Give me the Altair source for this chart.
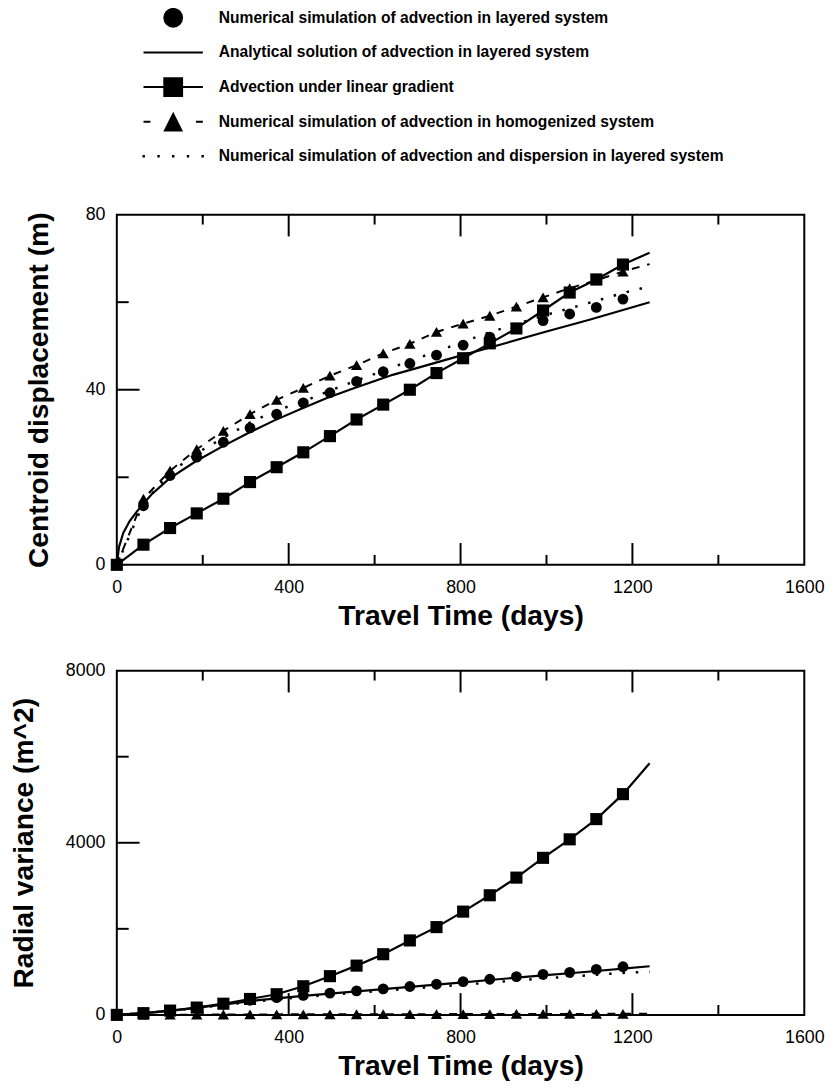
import altair as alt
import pandas as pd

# ---------------- data ----------------
t_markers = [0, 62, 124, 186, 248, 310, 372, 434, 496, 558, 620, 682, 744, 806,
             868, 930, 992, 1054, 1116, 1178]
t_end = 1240

# top panel: centroid displacement (m)
top_circle = [0, 13.5, 20.4, 24.6, 28.0, 31.3, 34.4, 37.0, 39.3, 41.9, 44.1, 46.0,
              47.9, 50.2, 52.0, 54.0, 55.8, 57.3, 58.8, 60.7]
top_square = [0, 4.6, 8.4, 11.75, 15.1, 18.9, 22.3, 25.7, 29.4, 33.2, 36.6, 40.0,
              43.8, 47.2, 50.6, 54.0, 58.1, 62.2, 65.2, 68.6]
top_square_end = 71.3
top_triangle = [0, 15.1, 21.5, 26.4, 30.6, 34.4, 37.7, 40.4, 43.2, 45.6, 48.3, 50.5,
                53.2, 55.1, 56.9, 59.0, 61.1, 63.2, 65.0, 67.0]
top_triangle_end = 68.7
top_dotted = [0, 14.0, 21.0, 25.5, 29.0, 32.5, 35.3, 37.3, 39.8, 42.1, 44.3, 46.6,
              48.7, 51.0, 53.1, 55.0, 56.9, 58.6, 60.3, 62.1, 63.6]
top_solid_t = [0, 5, 15, 30, 46, 80, 122, 183, 245, 306, 367, 428, 489, 550, 642,
               700, 800, 900, 1000, 1100, 1240]
top_solid = [0, 4.0, 7.3, 10.0, 12.1, 16.0, 19.7, 23.6, 27.0, 30.1, 33.0, 35.6,
             38.1, 40.3, 43.4, 45.0, 47.8, 50.5, 53.3, 56.0, 60.0]

# bottom panel: radial variance (m^2)
bot_circle = [0, 45, 100, 175, 250, 340, 400, 452, 506, 559, 605, 659, 713, 774,
              828, 889, 943, 989, 1057, 1119]
bot_square = [0, 40, 100, 170, 260, 370, 480, 665, 900, 1145, 1410, 1730, 2040,
              2400, 2780, 3190, 3650, 4080, 4550, 5130]
bot_square_end = 5850
bot_triangle = [0, 3, 5, 7, 9, 10, 12, 13, 14, 15, 16, 17, 18, 19, 20, 21, 22, 23,
                24, 25]
bot_triangle_end = 26
bot_solid = [0, 40, 95, 165, 240, 320, 385, 440, 495, 548, 597, 650, 703, 757, 810,
             865, 917, 968, 1020, 1075, 1130]
bot_dotted = [0, 40, 95, 160, 230, 300, 360, 415, 465, 515, 560, 610, 655, 705, 750,
              800, 845, 890, 935, 975, 1005]

x_labels = [0, 400, 800, 1200, 1600]
x_major_ticks = [400, 800, 1200]
x_minor_ticks = [200, 600, 1000, 1400]
top_y_labels = [0, 40, 80]
top_y_major = [40]
top_y_minor = [20, 60]
bot_y_labels = [0, 4000, 8000]
bot_y_major = [4000]
bot_y_minor = [2000, 6000]

legend_labels = [
    "Numerical simulation of advection in layered system",
    "Analytical solution of advection in layered system",
    "Advection under linear gradient",
    "Numerical simulation of advection in homogenized system",
    "Numerical simulation of advection and dispersion in layered system",
]
# legend glyphs (filled paths, unit = 10 px); "M0,-1L0,1" keeps every row the same height
SPACER = "M0,-1L0,1"
legend_paths = [
    "circle",
    "M-3,-0.1H3V0.1H-3Z" + SPACER,
    "M-3,-0.1H3V0.1H-3ZM-1,-1H1V1H-1Z",
    "M-3,-0.1H-2.3V0.1H-3ZM2.3,-0.1H3V0.1H2.3ZM-1,1L0,-1L1,1Z",
    "M-3.1,-0.12h0.24v0.24h-0.24Z"
    "M-1.6,-0.12h0.24v0.24h-0.24Z"
    "M-0.12,-0.12h0.24v0.24h-0.24Z"
    "M1.38,-0.12h0.24v0.24h-0.24Z"
    "M2.86,-0.12h0.24v0.24h-0.24Z" + SPACER,
]

FONT = "Liberation Sans"
W = 695
TOP_H = 354
BOT_H = 348


def panel(height, ymax, ylabels, ytitle, ytitle_pad, ymajor, yminor,
          circle, square, square_end, triangle, triangle_end, solid_t, solid,
          dotted_t, dotted, with_legend=False):
    xs = alt.Scale(domain=[0, 1600], nice=False, zero=False)
    ys = alt.Scale(domain=[0, ymax], nice=False, zero=False)
    xax = alt.Axis(values=x_labels, title="Travel Time (days)", labelPadding=14,
                   titlePadding=5, format="d")
    yax = alt.Axis(values=ylabels, title=ytitle, labelPadding=12,
                   titlePadding=ytitle_pad, format="d")

    def X(f="t"):
        return alt.X(f"{f}:Q", scale=xs, axis=xax)

    def Y(f="v"):
        return alt.Y(f"{f}:Q", scale=ys, axis=yax)

    d_circle = pd.DataFrame({"t": t_markers, "v": circle})
    d_square = pd.DataFrame({"t": t_markers, "v": square})
    d_square_line = pd.DataFrame({"t": t_markers + [t_end], "v": square + [square_end]})
    d_tri = pd.DataFrame({"t": t_markers, "v": triangle})
    d_tri_line = pd.DataFrame({"t": t_markers + [t_end], "v": triangle + [triangle_end]})
    d_solid = pd.DataFrame({"t": solid_t, "v": solid})
    d_dotted = pd.DataFrame({"t": dotted_t, "v": dotted})

    layers = [
        alt.Chart(d_solid).mark_line(color="black", strokeWidth=2.2).encode(x=X(), y=Y()),
        alt.Chart(d_dotted).mark_line(color="black", strokeWidth=2.5,
                                      strokeDash=[2.5, 11]).encode(x=X(), y=Y()),
        alt.Chart(d_tri_line).mark_line(color="black", strokeWidth=2,
                                        strokeDash=[8, 8]).encode(x=X(), y=Y()),
        alt.Chart(d_square_line).mark_line(color="black", strokeWidth=2.2).encode(x=X(), y=Y()),
        alt.Chart(d_square).mark_point(shape="square", filled=True, color="black",
                                       opacity=1, size=150).encode(x=X(), y=Y()),
        alt.Chart(d_tri).mark_point(shape="triangle-up", filled=True, color="black",
                                    opacity=1, size=130).encode(x=X(), y=Y()),
        alt.Chart(d_circle).mark_point(shape="circle", filled=True, color="black",
                                       opacity=1, size=120).encode(x=X(), y=Y()),
    ]

    # inward ticks
    d_xmaj = pd.DataFrame({"t": x_major_ticks})
    d_xmin = pd.DataFrame({"t": x_minor_ticks})
    d_ymaj = pd.DataFrame({"v": ymajor})
    d_ymin = pd.DataFrame({"v": yminor})
    for d, ln in ((d_xmaj, 22), (d_xmin, 10)):
        layers.append(alt.Chart(d).mark_rule(color="black", strokeWidth=2).encode(
            x=X(), y=alt.value(0), y2=alt.value(ln)))
        layers.append(alt.Chart(d).mark_rule(color="black", strokeWidth=2).encode(
            x=X(), y=alt.value(height), y2=alt.value(height - ln)))
    for d, ln in ((d_ymaj, 23), (d_ymin, 12)):
        layers.append(alt.Chart(d).mark_rule(color="black", strokeWidth=2).encode(
            y=Y(), x=alt.value(0), x2=alt.value(ln)))

    if with_legend:
        d_leg = pd.DataFrame({"series": legend_labels, "t": [0] * 5, "v": [0] * 5})
        layers.append(
            alt.Chart(d_leg).transform_filter("false").mark_point(
                filled=True, color="black", opacity=1).encode(
                x=X(), y=Y(),
                shape=alt.Shape(
                    "series:N",
                    scale=alt.Scale(domain=legend_labels, range=legend_paths),
                    legend=alt.Legend(
                        title=None, orient="none", legendX=47, legendY=-209,
                        symbolSize=400, symbolFillColor="black",
                        symbolStrokeWidth=0,
                        symbolOpacity=1, labelFont=FONT, labelFontSize=15.8,
                        labelFontWeight="bold", labelColor="black",
                        labelOffset=36, rowPadding=15, labelLimit=800,
                        padding=0, direction="vertical",
                    ),
                ),
            )
        )

    return alt.layer(*layers).properties(width=W, height=height)


top = panel(TOP_H, 80, top_y_labels, "Centroid displacement (m)", 32,
            top_y_major, top_y_minor, top_circle, top_square, top_square_end,
            top_triangle, top_triangle_end, top_solid_t, top_solid,
            t_markers + [t_end], top_dotted, with_legend=True)

bottom = panel(BOT_H, 8000, bot_y_labels, "Radial variance (m^2)", 27,
               bot_y_major, bot_y_minor, bot_circle, bot_square, bot_square_end,
               bot_triangle, bot_triangle_end, t_markers + [t_end], bot_solid,
               t_markers + [t_end], bot_dotted)

chart = (
    alt.vconcat(top, bottom, spacing=30)
    .properties(padding={"left": 0, "top": -6, "right": 5, "bottom": 0},
                background="white")
    .configure_view(stroke="black", strokeWidth=2)
    .configure_axis(domain=False, ticks=False, grid=False, labelFont=FONT,
                    labelFontSize=18, labelColor="black", titleFont=FONT,
                    titleFontSize=28.5, titleFontWeight="bold", titleColor="black",
                    labelFlush=False, labelOverlap=False)
)

chart.save("out.html", embed_options={"renderer": "svg", "actions": False})
